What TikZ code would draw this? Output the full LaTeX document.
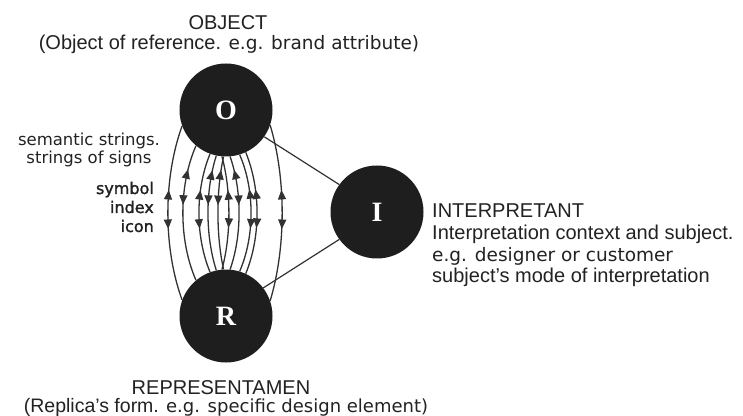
\documentclass[tikz,border=0pt]{standalone}
\usepackage{fontspec}
\setmainfont{Liberation Sans}
\newfontfamily\widefont{DejaVu Sans}
\newfontfamily\signfont[FakeBold=1.5]{DejaVu Sans}
\newfontfamily\letterfont{Liberation Serif}
\usepackage{tikz}
\usetikzlibrary{arrows.meta, decorations.markings}
\usepackage{xcolor}
\definecolor{discdark}{RGB}{30,30,30}
\definecolor{inkgray}{RGB}{34,34,34}
\definecolor{strandgray}{RGB}{50,50,50}
\newcommand{\egtext}[1]{{\widefont\fontsize{18.5}{21.7}\selectfont #1}}

\tikzset{
  disc/.style={circle, fill=discdark, minimum size=93pt, inner sep=0pt, text=white,
    font=\letterfont\bfseries\fontsize{28}{28}\selectfont},
  txt/.style={inner sep=0pt, text=inkgray, font=\fontsize{20}{21.7}\selectfont},
  spoke/.style={strandgray, line width=1.2pt},
  uppos/.store in=\strandup, downpos/.store in=\stranddown,
  uppos=0.3, downpos=0.6,
  strand/.style={strandgray, line width=1.3pt,
    postaction={decorate, decoration={markings,
      mark=at position \strandup with {\arrowreversed{Triangle[length=9.5pt,width=8pt]}},
      mark=at position \stranddown with {\arrow{Triangle[length=9.5pt,width=8pt]}}}}}
}

\begin{document}
\begin{tikzpicture}[x=1pt, y=1pt]
  \path[use as bounding box, fill=white] (0,0) rectangle (743,415);

  % the three corners of the sign
  \node[disc] (O) at (226,305) {O};
  \node[disc] (R) at (226,99) {R};
  \node[disc] (I) at (377,203) {I};

  \draw[spoke] (O.-35) -- (I.144);
  \draw[spoke] (R.37) -- (I.216);

  % strings of signs between object and representamen
  \draw[strand, uppos=0.37, downpos=0.59] (O.200) .. controls +(-19,-52) and +(-19,52) .. (R.160);
  \draw[strand, uppos=0.18, downpos=0.44] (O.230) .. controls +(-17.5,-40) and +(-17.5,40) .. (R.130);
  \draw[strand, uppos=0.31, downpos=0.63] (O.250) .. controls +(-14.8,-36) and +(-14.8,36) .. (R.110);
  \draw[strand, uppos=0.13, downpos=0.43] (O.258) .. controls +(-11.1,-35) and +(-11.1,35) .. (R.102);
  \draw[strand, uppos=0.12, downpos=0.43] (O.267) .. controls +(-7.5,-34) and +(-7.5,34) .. (R.93);
  \draw[strand, uppos=0.30, downpos=0.63] (O.265) .. controls +(9.3,-34) and +(9.3,34) .. (R.95);
  \draw[strand, uppos=0.12, downpos=0.43] (O.275) .. controls +(12,-34) and +(12,34) .. (R.85);
  \draw[strand, uppos=0.30, downpos=0.63] (O.287) .. controls +(15.2,-35) and +(15.2,35) .. (R.73);
  \draw[strand, uppos=0.31, downpos=0.62] (O.295) .. controls +(15.1,-37) and +(15.1,37) .. (R.65);
  \draw[strand, uppos=0.37, downpos=0.59] (O.341) .. controls +(16,-53) and +(16,53) .. (R.19);

  % labels
  \node[txt, anchor=base] (objtitle) at (228,385) {OBJECT};
  \node[txt, anchor=base] (objnote) at (229,365) {(Object of reference. \egtext{e.g. brand attribute)}};
  \node[txt, anchor=base] (reptitle) at (221,21) {REPRESENTAMEN};
  \node[txt, anchor=base, font=\fontsize{19.5}{21.7}\selectfont] (repnote) at (226,3)
    {(Replica's form. {\widefont\fontsize{18}{21.7}\selectfont e.g. specific design element)}};
  \node[txt, anchor=base west, align=left] (interptext) at (432,132)
    {INTERPRETANT\\Interpretation context and subject.\\\egtext{e.g. designer or customer}\\subject's mode of interpretation};
  \node[txt, anchor=base, align=center, font=\widefont\fontsize{16.5}{18}\selectfont] (semtext) at (89,251)
    {semantic strings.\\strings of signs};
  \node[txt, anchor=base east, align=right, font=\signfont\fontsize{16}{19}\selectfont] (signtypes) at (154,183)
    {symbol\\index\\icon};
\end{tikzpicture}
\end{document}
